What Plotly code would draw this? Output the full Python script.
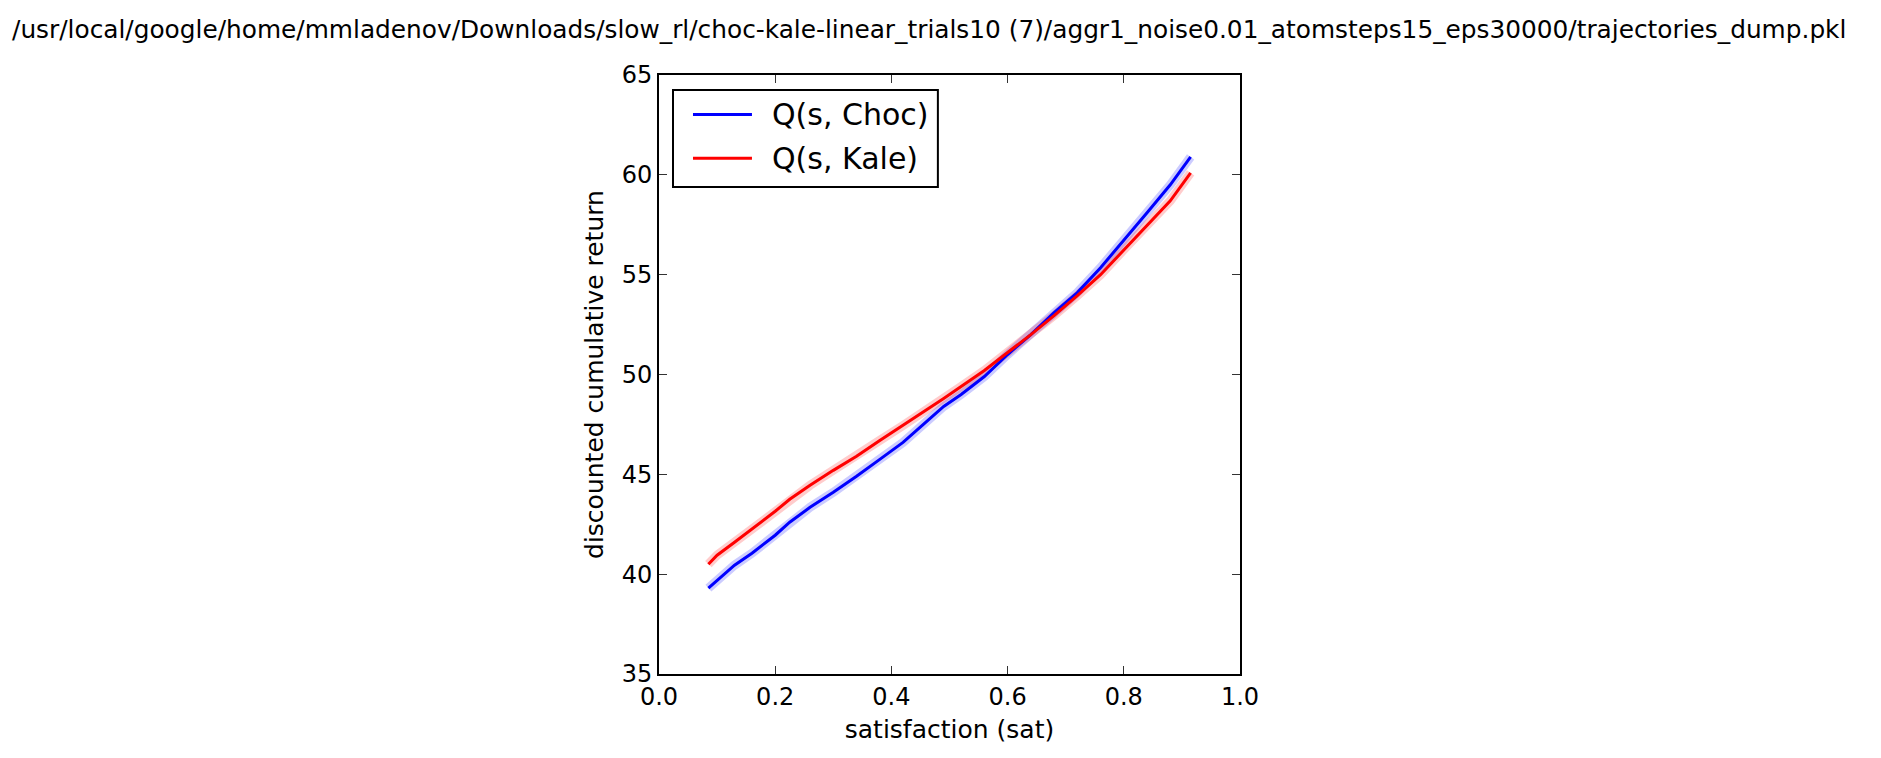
import plotly.graph_objects as go

# satisfaction values (x) sampled along the curves
sat = [0.085, 0.10, 0.13, 0.16, 0.20, 0.225, 0.26, 0.30, 0.34, 0.38, 0.42, 0.455,
       0.49, 0.52, 0.56, 0.60, 0.64, 0.68, 0.72, 0.76, 0.80, 0.84, 0.88, 0.915]

# Q(s, Choc) mean
q_choc = [39.3, 39.7, 40.45, 41.05, 41.95, 42.6, 43.35, 44.1, 44.9, 45.75, 46.6, 47.5,
          48.4, 49.0, 49.9, 51.0, 52.0, 53.1, 54.1, 55.35, 56.7, 58.1, 59.5, 60.9]

# Q(s, Kale) mean
q_kale = [40.5, 40.95, 41.6, 42.25, 43.15, 43.75, 44.45, 45.2, 45.9, 46.7, 47.45, 48.1,
          48.8, 49.4, 50.2, 51.1, 52.0, 52.95, 53.95, 55.0, 56.25, 57.5, 58.7, 60.1]

series_names = ["Q(s, Choc)", "Q(s, Kale)"]
series_colors = ["#0000ff", "#ff0000"]
band_colors = ["rgba(0,0,255,0.2)", "rgba(255,0,0,0.2)"]

x_ticks = [0.0, 0.2, 0.4, 0.6, 0.8, 1.0]
y_ticks = [35, 40, 45, 50, 55, 60, 65]

title = ("/usr/local/google/home/mmladenov/Downloads/slow_rl/choc-kale-linear_trials10 (7)/"
         "aggr1_noise0.01_atomsteps15_eps30000/trajectories_dump.pkl")

FONT = "DejaVu Sans"

fig = go.Figure()
series = [q_choc, q_kale]
# faint spread of individual trials
for ys, bc in zip(series, band_colors):
    fig.add_trace(go.Scatter(x=sat, y=ys, mode="lines", showlegend=False, hoverinfo="skip",
                             line=dict(color=bc, width=9)))
for ys, nm, c in zip(series, series_names, series_colors):
    fig.add_trace(go.Scatter(x=sat, y=ys, mode="lines", name=nm, showlegend=False,
                             line=dict(color=c, width=3)))

axis_common = dict(
    showline=True, linecolor="black", linewidth=2, mirror="ticks",
    ticks="inside", ticklen=8, tickwidth=1, tickcolor="#333333",
    showgrid=False, zeroline=False,
    tickfont=dict(family=FONT, size=24, color="black"),
)

# legend box drawn in paper coordinates (matplotlib-style)
shapes = [dict(type="rect", xref="paper", yref="paper", x0=0.0241, x1=0.480, y0=0.813, y1=0.975,
               line=dict(color="black", width=2), fillcolor="white", layer="above")]
annotations = []
legend_rows = [0.934, 0.861]
for nm, c, yy in zip(series_names, series_colors, legend_rows):
    shapes.append(dict(type="line", xref="paper", yref="paper", x0=0.0585, x1=0.160, y0=yy, y1=yy,
                       line=dict(color=c, width=3), layer="above"))
    annotations.append(dict(text=nm, xref="paper", yref="paper", x=0.191, y=yy,
                            xanchor="left", yanchor="middle", showarrow=False,
                            font=dict(family=FONT, size=30, color="black")))

fig.update_layout(
    width=1881, height=758,
    margin=dict(l=659, r=641, t=75, b=84),
    paper_bgcolor="white", plot_bgcolor="white",
    font=dict(family=FONT, color="black"),
    title=dict(text=title, x=0.494, xanchor="center", y=1 - 29 / 758, yanchor="middle",
               font=dict(family=FONT, size=24.8, color="black")),
    xaxis=dict(range=[0, 1], tickvals=x_ticks, ticktext=[f"{v:.1f}" for v in x_ticks],
               title=dict(text="satisfaction (sat)", standoff=11,
                          font=dict(family=FONT, size=25, color="black")),
               **axis_common),
    yaxis=dict(range=[35, 65], tickvals=y_ticks, ticktext=[str(v) for v in y_ticks],
               title=dict(text="discounted cumulative return", standoff=11,
                          font=dict(family=FONT, size=25, color="black")),
               **axis_common),
    shapes=shapes,
    annotations=annotations,
    showlegend=False,
)

fig.write_html("out.html")
